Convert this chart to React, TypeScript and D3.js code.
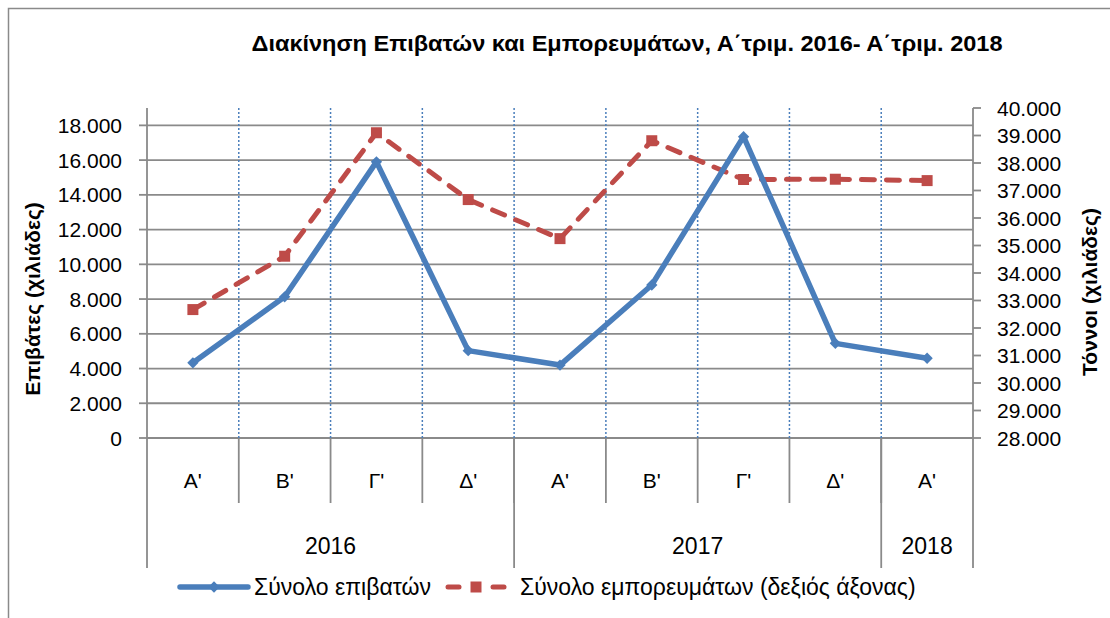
import React from "react";
import * as d3 from "d3";

const quarters = ["Α'", "Β'", "Γ'", "Δ'", "Α'", "Β'", "Γ'", "Δ'", "Α'"];
const yearLabels = ["2016", "2017", "2018"];
const yearSpans = [4, 4, 1];
const passengers = [4330, 8130, 15900, 5030, 4200, 8810, 17350, 5450, 4590];
const cargo = [32670, 34610, 39100, 36670, 35250, 38810, 37400, 37410, 37360];
const leftTicks = d3.range(0, 18001, 2000);
const rightTicks = d3.range(28000, 40001, 1000);
const title = "Διακίνηση Επιβατών και Εμπορευμάτων, Α΄τριμ. 2016- Α΄τριμ. 2018";
const leftTitle = "Επιβάτες  (χιλιάδες)";
const rightTitle = "Τόννοι  (χιλιάδες)";
const legendLabels = ["Σύνολο επιβατών", "Σύνολο εμπορευμάτων (δεξιός άξονας)"];

const FONT = "'Liberation Sans', Arial, sans-serif";
const BLUE = "#4a7ebb";
const RED = "#be4b48";
const GRID = "#8a8a8a";

const locale = d3.formatLocale({ decimal: ",", thousands: ".", grouping: [3], currency: ["", "€"] });
const fmt = locale.format(",d");

export default function App() {
  const left = 147, right = 973, top = 108, bottom = 438;
  const x = d3.scaleBand<number>().domain(d3.range(quarters.length)).range([left, right]).padding(0);
  const yL = d3.scaleLinear().domain([0, 19000]).range([bottom, top]);
  const yR = d3.scaleLinear().domain([28000, 40000]).range([bottom, top]);
  const cx = (i: number) => (x(i) as number) + x.bandwidth() / 2;

  const lineL = d3.line<number>().x((_, i) => cx(i)).y((d) => yL(d));
  const lineR = d3.line<number>().x((_, i) => cx(i)).y((d) => yR(d));
  const diamond = d3.symbol(d3.symbolSquare, 64)() as string;
  const square = d3.symbol(d3.symbolSquare, 121)() as string;

  const yearBounds: number[] = [];
  let acc = 0;
  yearSpans.forEach((s) => { yearBounds.push(acc); acc += s; });

  return (
    <svg width={1110} height={618} style={{ position: "absolute", left: 0, top: 0, background: "#fff" }} fontFamily={FONT}>
      <rect x={8.5} y={8.5} width={1200} height={700} fill="#fff" stroke={GRID} strokeWidth={1.5} />
      <text x={627} y={51} textAnchor="middle" fontSize={22} fontWeight="bold" fill="#000" textLength={751} lengthAdjust="spacingAndGlyphs">{title}</text>

      {/* gridlines */}
      {leftTicks.map((t) => (
        <line key={"g" + t} x1={left} x2={right} y1={yL(t)} y2={yL(t)} stroke={GRID} strokeWidth={1.8} />
      ))}
      {/* vertical dotted */}
      {d3.range(1, quarters.length).map((i) => (
        <line key={"v" + i} x1={x(i)} x2={x(i)} y1={top} y2={bottom} stroke={BLUE} strokeWidth={1.5} strokeDasharray="2 2" />
      ))}
      {/* axes */}
      <line x1={left} x2={left} y1={top} y2={568} stroke={GRID} strokeWidth={1.8} />
      <line x1={right} x2={right} y1={top} y2={568} stroke={GRID} strokeWidth={1.8} />
      {leftTicks.map((t) => (
        <g key={"lt" + t}>
          <line x1={left - 8} x2={left} y1={yL(t)} y2={yL(t)} stroke={GRID} strokeWidth={1.8} />
          <text x={122} y={yL(t) + 7.5} textAnchor="end" fontSize={21} fill="#000">{fmt(t)}</text>
        </g>
      ))}
      {rightTicks.map((t) => (
        <g key={"rt" + t}>
          <line x1={right} x2={right + 8} y1={yR(t)} y2={yR(t)} stroke={GRID} strokeWidth={1.8} />
          <text x={997} y={yR(t) + 7.5} textAnchor="start" fontSize={21} fill="#000">{fmt(t)}</text>
        </g>
      ))}
      {/* category axis */}
      {d3.range(1, quarters.length).map((i) => (
        <line key={"qs" + i} x1={x(i)} x2={x(i)} y1={bottom} y2={503} stroke={GRID} strokeWidth={1.8} />
      ))}
      {yearBounds.slice(1).map((b) => (
        <line key={"ys" + b} x1={x(b)} x2={x(b)} y1={bottom} y2={568} stroke={GRID} strokeWidth={1.8} />
      ))}
      {quarters.map((q, i) => (
        <text key={"q" + i} x={cx(i)} y={488} textAnchor="middle" fontSize={21} fill="#000">{q}</text>
      ))}
      {yearLabels.map((yl, j) => {
        const s = yearBounds[j];
        const e = s + yearSpans[j];
        const mid = ((x(s) as number) + (e >= quarters.length ? right : (x(e) as number))) / 2;
        return <text key={"y" + j} x={mid} y={554} textAnchor="middle" fontSize={23} fill="#000">{yl}</text>;
      })}

      {/* axis titles */}
      <text transform="translate(40,299) rotate(-90)" textAnchor="middle" fontSize={21} fontWeight="bold" fill="#000">{leftTitle}</text>
      <text transform="translate(1097,292) rotate(-90)" textAnchor="middle" fontSize={21} fontWeight="bold" fill="#000">{rightTitle}</text>

      {/* series */}
      <path d={lineR(cargo) as string} fill="none" stroke={RED} strokeWidth={5} strokeDasharray="13 12" strokeLinecap="round" />
      {cargo.map((v, i) => (
        <path key={"m2" + i} d={square} transform={`translate(${cx(i)},${yR(v)})`} fill={RED} />
      ))}
      <path d={lineL(passengers) as string} fill="none" stroke={BLUE} strokeWidth={5.5} strokeLinejoin="round" />
      {passengers.map((v, i) => (
        <path key={"m1" + i} d={diamond} transform={`translate(${cx(i)},${yL(v)}) rotate(45)`} fill={BLUE} />
      ))}

      {/* legend */}
      <line x1={180} x2={248} y1={587} y2={587} stroke={BLUE} strokeWidth={5.5} strokeLinecap="round" />
      <path d={diamond} transform="translate(214,587) rotate(45)" fill={BLUE} />
      <text x={254} y={595} fontSize={23} fill="#000">{legendLabels[0]}</text>
      <line x1={448} x2={459} y1={587} y2={587} stroke={RED} strokeWidth={5} strokeLinecap="round" />
      <line x1={493} x2={504} y1={587} y2={587} stroke={RED} strokeWidth={5} strokeLinecap="round" />
      <path d={square} transform="translate(476,587)" fill={RED} />
      <text x={520} y={595} fontSize={23} fill="#000">{legendLabels[1]}</text>
    </svg>
  );
}
